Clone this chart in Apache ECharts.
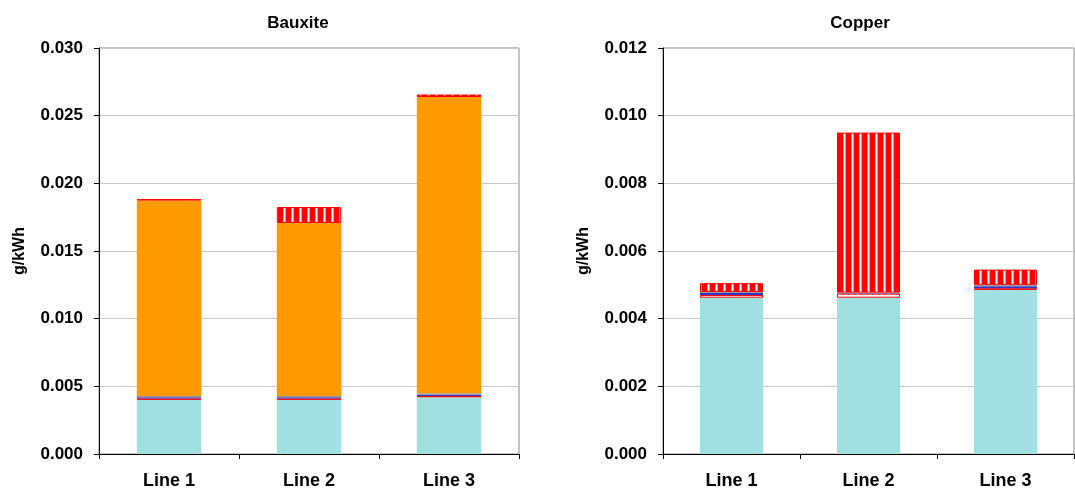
<!DOCTYPE html>
<html>
<head>
<meta charset="utf-8">
<script src="https://cdn.jsdelivr.net/npm/echarts@6/dist/echarts.min.js"></script>
<style>
  html, body { margin: 0; padding: 0; background: #ffffff; }
  #chart { width: 1075px; height: 491px; }
</style>
</head>
<body>
<div id="chart"></div>
<script>
// Categories and panel titles
const categories = ['Line 1', 'Line 2', 'Line 3'];
const panelTitles = ['Bauxite', 'Copper'];
const unitLabel = 'g/kWh';

// Bauxite stack, bottom to top (g/kWh)
const bauxiteBase    = [0.00400, 0.00400, 0.00419];
const bauxiteDotted  = [0.00010, 0.00010, 0.00010];
const bauxiteBlue    = [0.00010, 0.00010, 0.00010];
const bauxiteGrey    = [0.00008, 0.00009, 0.00009];
const bauxiteOrange  = [0.01445, 0.01278, 0.02190];
const bauxiteStriped = [0.00010, 0.00118, 0.00018];

// Copper stack, bottom to top (g/kWh)
const copperBase    = [0.00462, 0.00462, 0.00485];
const copperDotted  = [0.00008, 0.00012, 0.00005];
const copperBlue    = [0.00006, 0.00001, 0.00006];
const copperGrey    = [0.00003, 0.00002, 0.00004];
const copperOrange  = [0, 0, 0];
const copperStriped = [0.00026, 0.00473, 0.00045];

// Axis scales
const bauxiteAxis = { max: 0.030, step: 0.005 };
const copperAxis  = { max: 0.012, step: 0.002 };

// Red fill with pale vertical stripes
function stripedFill() {
  const c = document.createElement('canvas');
  c.width = 8; c.height = 8;
  const g = c.getContext('2d');
  g.fillStyle = '#ff0000'; g.fillRect(0, 0, 8, 8);
  g.fillStyle = '#ff9a9a'; g.fillRect(3, 0, 1, 8);
  g.fillStyle = '#ffffff'; g.fillRect(4, 0, 1, 8);
  g.fillStyle = '#ff9a9a'; g.fillRect(5, 0, 1, 8);
  return c;
}
// White fill with small red dots
function dottedFill() {
  const c = document.createElement('canvas');
  c.width = 6; c.height = 4;
  const g = c.getContext('2d');
  g.fillStyle = '#ffffff'; g.fillRect(0, 0, 6, 4);
  g.fillStyle = '#ff6060'; g.fillRect(2, 1, 2, 2);
  return c;
}
const stripeImg = stripedFill();
const dotImg = dottedFill();

const boldFont = { fontFamily: 'Liberation Sans, Arial, sans-serif', fontWeight: 'bold', color: '#000' };

function makeSeries(idx, stack, parts) {
  const styles = [
    { color: '#a0e0e0' },
    { color: { image: dotImg, repeat: 'repeat' }, borderColor: '#ff0000', borderWidth: 1 },
    { color: '#3333cc' },
    { color: '#999999' },
    { color: '#ff9900' },
    { color: { image: stripeImg, repeat: 'repeat' }, borderColor: '#ff0000', borderWidth: 1 }
  ];
  return parts.map((data, i) => ({
    type: 'bar',
    xAxisIndex: idx,
    yAxisIndex: idx,
    stack: stack,
    barWidth: '46%',
    data: data,
    itemStyle: styles[i],
    silent: true,
    animation: false
  }));
}

function yAxisFor(idx, scale) {
  return {
    type: 'value',
    gridIndex: idx,
    min: 0,
    max: scale.max,
    interval: scale.step,
    name: unitLabel,
    nameLocation: 'middle',
    nameGap: 71,
    nameRotate: 90,
    nameTextStyle: Object.assign({ fontSize: 16 }, boldFont),
    axisLine: { show: true, lineStyle: { color: '#000', width: 1 } },
    axisTick: { show: true, length: 5, lineStyle: { color: '#000' } },
    axisLabel: Object.assign({ fontSize: 17, margin: 16, formatter: v => v.toFixed(3) }, boldFont),
    splitLine: { show: true, lineStyle: { color: '#c8c8c8', width: 1 } }
  };
}

function xAxisFor(idx) {
  return {
    type: 'category',
    gridIndex: idx,
    data: categories,
    axisLine: { show: true, lineStyle: { color: '#000', width: 1 } },
    axisTick: { show: true, length: 5, alignWithLabel: false, lineStyle: { color: '#000' } },
    axisLabel: Object.assign({ fontSize: 18, margin: 18 }, boldFont)
  };
}

const chart = echarts.init(document.getElementById('chart'), null, { renderer: 'canvas' });
chart.setOption({
  backgroundColor: '#ffffff',
  animation: false,
  title: [
    { text: panelTitles[0], left: 293, top: 10, textAlign: 'center', textStyle: Object.assign({ fontSize: 17 }, boldFont) },
    { text: panelTitles[1], left: 855, top: 10, textAlign: 'center', textStyle: Object.assign({ fontSize: 17 }, boldFont) }
  ],
  grid: [
    { left: 99, right: 556, top: 48, bottom: 37, show: true, borderColor: '#888888', borderWidth: 1, backgroundColor: 'transparent' },
    { left: 663, right: 1, top: 48, bottom: 37, show: true, borderColor: '#888888', borderWidth: 1, backgroundColor: 'transparent' }
  ],
  xAxis: [xAxisFor(0), xAxisFor(1)],
  yAxis: [yAxisFor(0, bauxiteAxis), yAxisFor(1, copperAxis)],
  series: [].concat(
    makeSeries(0, 'bauxite', [bauxiteBase, bauxiteDotted, bauxiteBlue, bauxiteGrey, bauxiteOrange, bauxiteStriped]),
    makeSeries(1, 'copper', [copperBase, copperDotted, copperBlue, copperGrey, copperOrange, copperStriped])
  )
});
</script>
</body>
</html>
